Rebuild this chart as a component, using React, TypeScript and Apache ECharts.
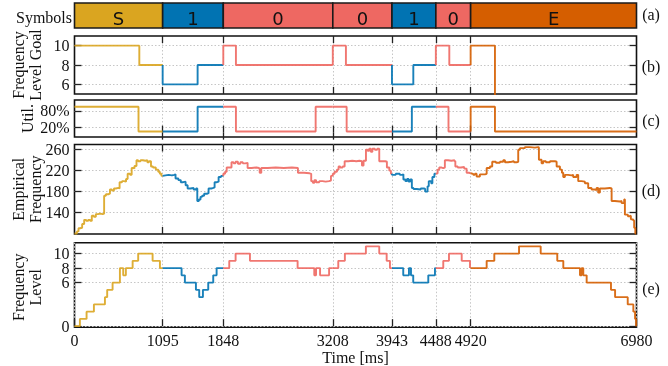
import React, { useEffect, useRef } from 'react';
import * as echarts from 'echarts';

// ---------------- data ----------------
const boundaries = [0, 1095, 1848, 3208, 3943, 4488, 4920, 6980];
const symbols = ['S', '1', '0', '0', '1', '0', 'E'];

const goalLevel: [number, number][] = [
  [0, 10], [805, 8], [1095, 6], [1529, 8], [1848, 10], [2005, 8], [3208, 10], [3371, 8],
  [3943, 6], [4208, 8], [4488, 10], [4655, 8], [4920, 10], [5222, 0],
];

const utilization: [number, number][] = [
  [0, 0.95], [795, 0.04], [1529, 0.95], [2005, 0.04], [2995, 0.95], [3380, 0.04],
  [4190, 0.95], [4645, 0.04], [4920, 0.95], [5222, 0.04],
];

const empiricalFrequency: [number, number][] = [
  [0, 100], [30, 104], [50, 110], [70, 111], [95, 118], [120, 126], [145, 124], [170, 126], [195, 124],
  [215, 134], [240, 132], [265, 137], [290, 138], [320, 137], [350, 138], [368, 172], [390, 175],
  [420, 176], [440, 184], [465, 182], [490, 186], [515, 187], [545, 186], [560, 198], [590, 200],
  [615, 199], [640, 204], [660, 214], [690, 212], [710, 225], [735, 224], [745, 229], [770, 240],
  [790, 238], [820, 240], [850, 239], [880, 240], [905, 236], [925, 238], [950, 228], [975, 226],
  [1010, 222], [1040, 218], [1060, 214], [1080, 210],
  [1095, 211], [1130, 212], [1170, 211], [1210, 212], [1240, 213], [1255, 205], [1290, 202],
  [1320, 198], [1350, 199], [1380, 192], [1405, 186], [1440, 187], [1480, 184], [1510, 186],
  [1525, 162], [1545, 165], [1565, 170], [1585, 172], [1610, 176], [1650, 177], [1665, 186],
  [1700, 187], [1725, 188], [1740, 198], [1770, 199], [1790, 208], [1820, 210],
  [1848, 214], [1870, 218], [1890, 226], [1920, 226], [1950, 236], [1975, 234], [2000, 237],
  [2030, 233], [2060, 236], [2090, 234], [2120, 235], [2150, 225], [2200, 226], [2260, 225],
  [2290, 224], [2300, 216], [2320, 225], [2400, 226], [2500, 225], [2600, 226], [2700, 225],
  [2775, 216], [2850, 215], [2920, 214], [2940, 200], [2960, 197], [2980, 202], [3000, 198],
  [3040, 200], [3080, 199], [3120, 200], [3160, 201], [3185, 210],
  [3208, 214], [3230, 218], [3260, 222], [3280, 228], [3300, 226], [3330, 228], [3355, 238],
  [3400, 239], [3450, 238], [3500, 239], [3540, 238], [3570, 230], [3590, 239], [3620, 260],
  [3640, 258], [3660, 262], [3680, 256], [3700, 262], [3730, 260], [3760, 262], [3785, 238],
  [3820, 238], [3860, 237], [3880, 226], [3910, 220], [3930, 214],
  [3943, 212], [3990, 214], [4040, 212], [4070, 213], [4085, 203], [4110, 200], [4130, 204],
  [4150, 199], [4170, 203], [4190, 187], [4210, 185], [4250, 184], [4300, 186], [4340, 185],
  [4355, 180], [4385, 190], [4400, 200], [4430, 196], [4445, 208], [4470, 214],
  [4488, 215], [4510, 222], [4530, 226], [4560, 225], [4580, 226], [4600, 240], [4640, 239],
  [4680, 240], [4720, 238], [4730, 228], [4760, 226], [4800, 227], [4840, 224], [4870, 216],
  [4900, 215],
  [4920, 214], [4952, 212], [4973, 214], [4994, 209], [5035, 213], [5097, 214], [5119, 225],
  [5160, 228], [5188, 237], [5234, 235], [5284, 237], [5325, 240], [5346, 236], [5383, 237],
  [5429, 238], [5458, 236], [5491, 237], [5511, 260], [5532, 263], [5594, 265], [5656, 264],
  [5718, 265], [5759, 264], [5768, 241], [5801, 234], [5821, 238], [5855, 236], [5905, 238],
  [5967, 237], [5988, 228], [6029, 222], [6054, 216], [6070, 208], [6091, 212], [6129, 211],
  [6174, 212], [6194, 208], [6236, 212], [6256, 200], [6298, 199], [6339, 196], [6380, 187],
  [6422, 184], [6463, 183], [6484, 187], [6504, 178], [6525, 186], [6587, 187], [6649, 186],
  [6671, 162], [6712, 161], [6774, 162], [6795, 158], [6827, 165], [6836, 136], [6873, 133],
  [6898, 134], [6910, 127], [6939, 125], [6951, 111], [6965, 100], [6975, 99],
];

const frequencyLevel: [number, number][] = [
  [0, 0], [67, 1], [150, 2], [241, 3], [378, 4], [406, 5], [473, 6], [564, 8], [605, 7], [638, 8],
  [722, 9], [791, 10], [970, 9], [1061, 8],
  [1330, 7], [1371, 6], [1508, 5], [1549, 4], [1595, 5], [1661, 6], [1723, 7], [1765, 8],
  [1922, 9], [2001, 10], [2179, 9], [2771, 8], [2978, 7], [3000, 8], [3050, 7], [3162, 8],
  [3276, 9], [3358, 10], [3619, 11], [3785, 10], [3877, 9], [3918, 8],
  [4083, 7], [4154, 8], [4179, 7], [4207, 6], [4394, 7], [4477, 8],
  [4580, 9], [4651, 10], [4809, 9], [4912, 8],
  [5119, 9], [5214, 10], [5521, 11], [5790, 10], [5996, 9], [6071, 8], [6278, 7], [6299, 8],
  [6319, 7], [6361, 6], [6663, 5], [6714, 4], [6871, 3], [6941, 2], [6962, 1], [6975, 0],
];

const goalTicks = [6, 8, 10];
const utilTicks = [0.2, 0.8];
const empiricalTicks = [140, 180, 220, 260];
const levelTicks = [0, 6, 8, 10];

// ---------------- style ----------------
const palette: Record<string, string> = { S: '#DAA520', '1': '#0173B2', '0': '#EE6862', E: '#D55E00' };
const SERIF = 'Liberation Serif';
const INK = '#111111';

function splitBySegment(points: [number, number][]) {
  return symbols.map((_, i) => {
    const a = boundaries[i];
    const b = boundaries[i + 1];
    const before = points.filter((p) => p[0] < a);
    const inside = points.filter((p) => p[0] >= a && p[0] < b);
    const startVal = before.length ? before[before.length - 1][1] : points[0][1];
    const upto = points.filter((p) => p[0] < b);
    const endVal = upto[upto.length - 1][1];
    return [[a, startVal], ...inside, [b, endVal]];
  });
}

export default function App() {
  const ref = useRef<HTMLDivElement>(null);

  useEffect(() => {
    if (!ref.current) return;
    const chart = echarts.init(ref.current, undefined, { renderer: 'svg' });

    const L = 74.5;
    const W = 562;
    const panels = [
      { top: 3, height: 25 },
      { top: 36, height: 58, min: 5, max: 11, ticks: goalTicks, data: goalLevel, fmt: (v: number) => String(v) },
      { top: 100, height: 37, min: -0.16, max: 1.2, ticks: utilTicks, data: utilization, fmt: (v: number) => Math.round(v * 100) + '%' },
      { top: 144.5, height: 89.5, min: 99, max: 270, ticks: empiricalTicks, data: empiricalFrequency, fmt: (v: number) => String(v) },
      { top: 242.7, height: 89, min: -0.13, max: 11.5, ticks: levelTicks, data: frequencyLevel, fmt: (v: number) => String(v) },
    ];

    const grid = panels.map((p, i) => ({
      left: L, width: W, top: p.top, height: p.height,
      show: i > 0, borderColor: INK, borderWidth: 1.6, backgroundColor: 'transparent',
    }));

    const tick = { show: true, inside: true, length: 7, lineStyle: { color: '#222', width: 1.3 } };
    const gridLine = { show: true, lineStyle: { color: '#c6c6c6', width: 1, type: [1.5, 2] } };
    const innerX = boundaries.slice(1, -1);
    const labelFont = { fontFamily: SERIF, fontSize: 16, color: INK };

    const xAxis: any[] = [{ gridIndex: 0, type: 'value', min: 0, max: 6980, show: false }];
    const yAxis: any[] = [{ gridIndex: 0, type: 'value', min: 0, max: 1, show: false }];
    const series: any[] = [];

    series.push({
      type: 'custom',
      xAxisIndex: 0,
      yAxisIndex: 0,
      data: symbols.map((s, i) => [boundaries[i], boundaries[i + 1], i]),
      renderItem: (params: any, api: any) => {
        const idx = api.value(2);
        const p0 = api.coord([api.value(0), 1]);
        const p1 = api.coord([api.value(1), 0]);
        const lab = symbols[idx];
        return {
          type: 'group',
          children: [
            {
              type: 'rect',
              shape: { x: p0[0], y: p0[1], width: p1[0] - p0[0], height: p1[1] - p0[1] },
              style: { fill: palette[lab], stroke: '#1a1a1a', lineWidth: 1.6 },
            },
            {
              type: 'text',
              x: (p0[0] + p1[0]) / 2,
              y: (p0[1] + p1[1]) / 2 + 2.5,
              style: { text: lab, align: 'center', verticalAlign: 'middle', fontSize: 18, fontFamily: 'DejaVu Sans', fill: INK },
            },
          ],
        };
      },
    });

    panels.forEach((p: any, gi) => {
      if (gi === 0) return;
      const isLast = gi === panels.length - 1;
      const xb = xAxis.length;
      xAxis.push({
        gridIndex: gi, type: 'value', min: 0, max: 6980, position: 'bottom',
        axisLine: { show: false },
        axisTick: { ...tick, customValues: isLast ? boundaries : innerX },
        axisLabel: isLast
          ? {
              show: true, customValues: boundaries, formatter: (v: number) => String(v),
              hideOverlap: false, showMinLabel: true, showMaxLabel: true, margin: 5, ...labelFont,
            }
          : { show: false },
        splitLine: gridLine,
        name: isLast ? 'Time [ms]' : '',
        nameLocation: 'middle',
        nameGap: 14,
        nameTextStyle: { ...labelFont, verticalAlign: 'top' },
      });
      if (!isLast) {
        xAxis.push({
          gridIndex: gi, type: 'value', min: 0, max: 6980, position: 'top',
          axisLine: { show: false }, axisTick: { ...tick, customValues: innerX },
          axisLabel: { show: false }, splitLine: { show: false },
        });
      }
      // labels alternate between two left axes so that close neighbours are never dropped
      const evenLabels = p.ticks.filter((_: number, k: number) => k % 2 === 0);
      const oddLabels = p.ticks.filter((_: number, k: number) => k % 2 === 1);
      const yl = yAxis.length;
      yAxis.push({
        gridIndex: gi, type: 'value', min: p.min, max: p.max, position: 'left', offset: 0,
        axisLine: { show: false },
        axisTick: { ...tick, customValues: p.ticks },
        axisLabel: {
          show: true, customValues: evenLabels, formatter: p.fmt, hideOverlap: false,
          showMinLabel: true, showMaxLabel: true, margin: 5, ...labelFont,
        },
        splitLine: gridLine,
      });
      if (oddLabels.length) {
        yAxis.push({
          gridIndex: gi, type: 'value', min: p.min, max: p.max, position: 'left', offset: 0,
          axisLine: { show: false },
          axisTick: { show: false },
          axisLabel: {
            show: true, customValues: oddLabels, formatter: p.fmt, hideOverlap: false,
            showMinLabel: true, showMaxLabel: true, margin: 5, ...labelFont,
          },
          splitLine: { show: false },
        });
      }
      yAxis.push({
        gridIndex: gi, type: 'value', min: p.min, max: p.max, position: 'right',
        axisLine: { show: false },
        axisTick: { ...tick, customValues: p.ticks },
        axisLabel: { show: false }, splitLine: { show: false },
      });
      splitBySegment(p.data).forEach((d, si) => {
        series.push({
          type: 'line',
          xAxisIndex: xb,
          yAxisIndex: yl,
          data: d,
          step: 'end',
          showSymbol: false,
          clip: true,
          lineStyle: { color: palette[symbols[si]], width: 1.9, opacity: 0.9 },
        });
      });
    });

    const mid = (i: number) => panels[i].top + panels[i].height / 2;
    const leftText = (text: string, y: number) => ({
      type: 'text', x: 27, y, rotation: Math.PI / 2,
      style: { text, align: 'center', verticalAlign: 'middle', fontFamily: SERIF, fontSize: 16, lineHeight: 17, fill: INK },
    });
    const rightText = (text: string, y: number) => ({
      type: 'text', x: 651, y,
      style: { text, align: 'center', verticalAlign: 'middle', fontFamily: SERIF, fontSize: 16, fill: INK },
    });

    chart.setOption({
      animation: false,
      grid,
      xAxis,
      yAxis,
      series,
      graphic: {
        elements: [
          { type: 'text', x: 72, y: 17, style: { text: 'Symbols', align: 'right', verticalAlign: 'middle', fontFamily: SERIF, fontSize: 16, fill: INK } },
          leftText('Frequency\nLevel Goal', mid(1)),
          leftText('Util.', mid(2)),
          leftText('Empirical\nFrequency', mid(3)),
          leftText('Frequency\nLevel', mid(4)),
          rightText('(a)', 14.5),
          rightText('(b)', 66),
          rightText('(c)', 120),
          rightText('(d)', 190),
          rightText('(e)', 288.5),
        ],
      },
    });

    return () => chart.dispose();
  }, []);

  return <div ref={ref} style={{ position: 'fixed', left: 0, top: 0, width: 668, height: 366 }} />;
}
